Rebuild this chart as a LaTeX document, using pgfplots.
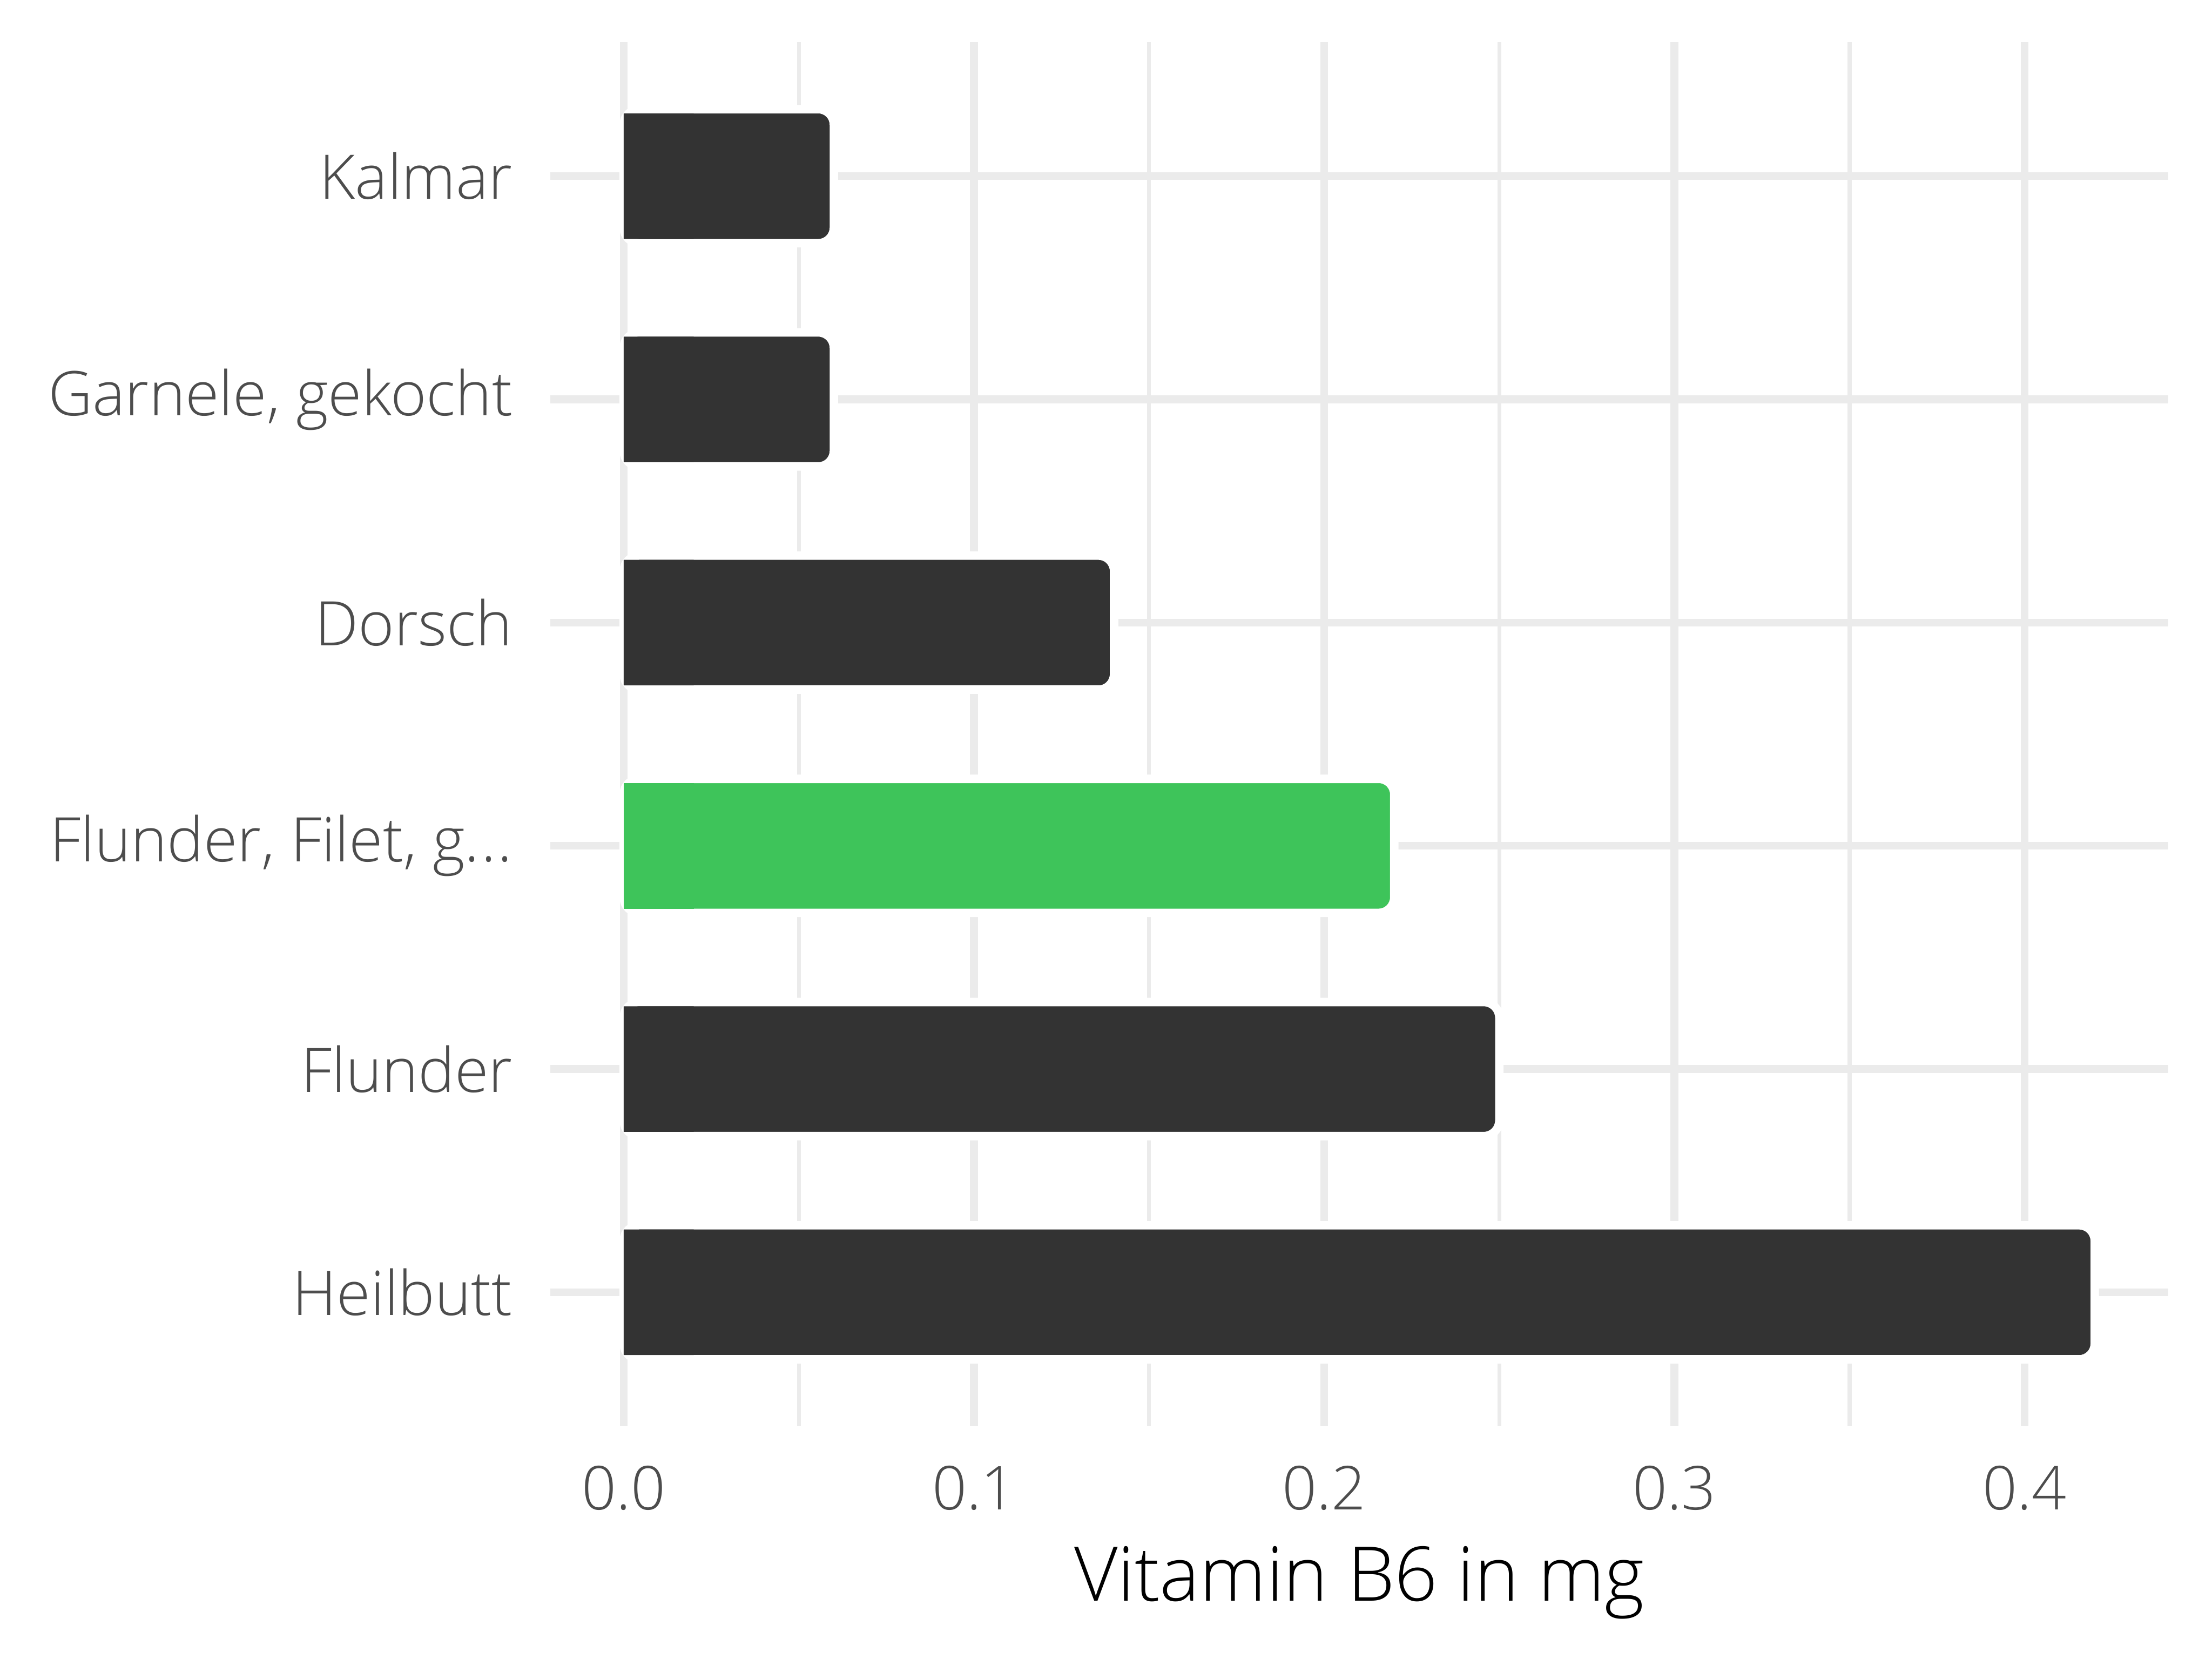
\documentclass[border=0pt]{standalone}
\usepackage{pgfplots}
\pgfplotsset{compat=1.18}
\usepackage{fontspec}
\IfFontExistsTF{Open Sans Light}{\setmainfont{Open Sans Light}}{\setmainfont{Open Sans}}

\definecolor{bardark}{HTML}{333333}
\definecolor{bargreen}{HTML}{3EC45A}
\definecolor{gridgray}{HTML}{EBEBEB}
\definecolor{ticktext}{HTML}{4D4D4D}

\begin{document}
\begin{tikzpicture}
  \useasboundingbox (0,0) rectangle (15.68cm,11.76cm);
  \begin{axis}[
      at={(3.90cm,1.65cm)}, anchor=south west,
      scale only axis,
      width=11.47cm, height=9.81cm,
      xbar, bar width=0.95cm, bar shift=0pt,
      xmin=-0.021, xmax=0.441,
      ymin=0.4, ymax=6.6,
      xtick={0,0.1,0.2,0.3,0.4},
      minor xtick={0.05,0.15,0.25,0.35},
      ytick={1,2,3,4,5,6},
      yticklabels={Heilbutt, Flunder, {Flunder, Filet, g{.}\kern0.03em{.}\kern0.03em{.}}, Dorsch, {Garnele, gekocht}, Kalmar},
      xmajorgrids=true, xminorgrids=true, ymajorgrids=true,
      major grid style={draw=gridgray, line width=0.055cm},
      minor grid style={draw=gridgray, line width=0.028cm},
      axis line style={draw=none},
      tick style={draw=none},
      major tick length=0pt, minor tick length=0pt,
      /pgf/number format/fixed,
      /pgf/number format/fixed zerofill,
      /pgf/number format/precision=1,
      /pgf/number format/assume math mode=true,
      x tick label style={font=\fontsize{12.2}{14}\selectfont, text=ticktext, anchor=base, inner sep=0pt, yshift=-0.59cm},
      y tick label style={font=\fontsize{12.4}{14}\selectfont, text=ticktext, anchor=east, inner sep=0pt, xshift=-0.26cm},
      xlabel={Vitamin B6 in mg},
      xlabel style={at={(axis description cs:0.5,0)}, anchor=base, inner sep=0pt, yshift=-1.24cm, font=\fontsize{15.2}{18}\selectfont, text=black},
    ]
    % bars with a white outline and rounded corners
    \addplot[fill=bardark, draw=white, line width=0.06cm, rounded corners=0.11cm] coordinates {
      (0.42,1) (0.25,2) (0.14,4) (0.06,5) (0.06,6)
    };
    \addplot[fill=bargreen, draw=white, line width=0.06cm, rounded corners=0.11cm] coordinates {
      (0.22,3)
    };
    % square left ends of the bars
    \addplot[fill=bardark, draw=none, bar width=0.89cm] coordinates {
      (0.02,1) (0.02,2) (0.02,4) (0.02,5) (0.02,6)
    };
    \addplot[fill=bargreen, draw=none, bar width=0.89cm] coordinates {
      (0.02,3)
    };
  \end{axis}
\end{tikzpicture}
\end{document}
